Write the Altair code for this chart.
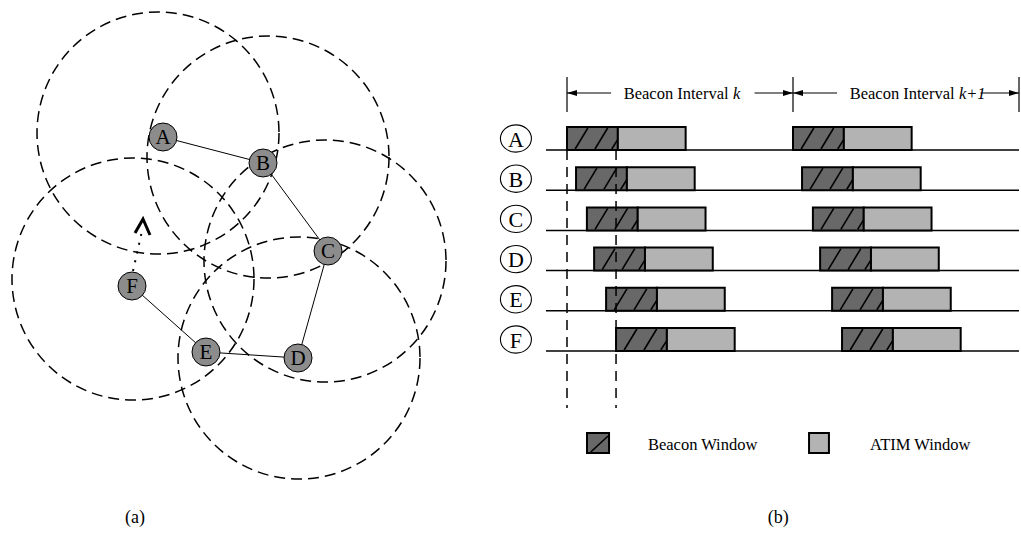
import altair as alt
import pandas as pd

# ---------------- (a) ad hoc network ----------------
nodes = ["A", "B", "C", "D", "E", "F"]
node_x = [163, 263, 328, 298, 206, 132]
node_y = [137, 163, 251, 358, 352, 286]

link_src = ["A", "B", "C", "E", "F"]
link_dst = ["B", "C", "D", "D", "E"]

# transmission ranges drawn as dashed circles
range_x = [158, 268, 133, 325, 299]
range_y = [133, 157, 279, 261, 358]
range_radius = 121

# node F moving away (dotted path with a caret head)
move_x = [133, 142]
move_y = [271, 231]
caret_x = [135, 143, 150]
caret_y = [233, 219, 235]

# ---------------- (b) beacon timing ----------------
interval = 100.0                 # length of one beacon interval
beacon_window = 22.5
atim_window = 30.0
clock_offset = [0.0, 4.0, 8.8, 12.0, 17.3, 21.7]   # one per node, same order
interval_names = ["k", "k+1"]

# ---------------- layout ----------------
W_A, W_B, H = 500, 521, 540
PX_PER_UNIT = 2.26
T0_PX = 67
ROW0, ROW_STEP, BAR_H = 150, 40.2, 23
FONT = "Liberation Serif"
DARK, LIGHT, NODE_GREY = "#686868", "#b3b3b3", "#8c8c8c"

sx_a = alt.Scale(domain=[0, W_A], nice=False, zero=False)
sy = alt.Scale(domain=[0, H], reverse=True, nice=False, zero=False)
sx_b = alt.Scale(domain=[-T0_PX / PX_PER_UNIT, (W_B - T0_PX) / PX_PER_UNIT],
                 nice=False, zero=False)


def X(field, s):
    return alt.X(field, type="quantitative", scale=s, axis=None)


def Y(field):
    return alt.Y(field, type="quantitative", scale=sy, axis=None)


# ---------- panel (a) ----------
pos = pd.DataFrame({"node": nodes, "x": node_x, "y": node_y})
ranges = pd.DataFrame({"x": range_x, "y": range_y})
links = pd.DataFrame({"src": link_src, "dst": link_dst})
links = links.merge(pos.rename(columns={"node": "src", "x": "x1", "y": "y1"}), on="src")
links = links.merge(pos.rename(columns={"node": "dst", "x": "x2", "y": "y2"}), on="dst")
move = pd.DataFrame({"x1": [move_x[0]], "y1": [move_y[0]], "x2": [move_x[1]], "y2": [move_y[1]]})
caret = pd.DataFrame({"x": caret_x, "y": caret_y, "o": range(len(caret_x))})

range_layer = alt.Chart(ranges).mark_point(
    shape="circle", size=(2 * range_radius) ** 2, filled=False, opacity=1,
    stroke="black", strokeWidth=1.5, strokeDash=[11, 6]
).encode(x=X("x", sx_a), y=Y("y"))

link_layer = alt.Chart(links).mark_rule(color="black", strokeWidth=1).encode(
    x=X("x1", sx_a), y=Y("y1"), x2="x2:Q", y2="y2:Q")

move_layer = alt.Chart(move).mark_rule(color="black", strokeWidth=2, strokeDash=[2, 7]).encode(
    x=X("x1", sx_a), y=Y("y1"), x2="x2:Q", y2="y2:Q")

caret_layer = alt.Chart(caret).mark_line(color="black", strokeWidth=3).encode(
    x=X("x", sx_a), y=Y("y"), order="o:Q")

node_layer = alt.Chart(pos).mark_point(
    shape="circle", size=28 ** 2, filled=True, fill=NODE_GREY, opacity=1,
    stroke="black", strokeWidth=1
).encode(x=X("x", sx_a), y=Y("y"))

node_text = alt.Chart(pos).mark_text(
    font=FONT, fontSize=21, color="black", baseline="middle", dy=1
).encode(x=X("x", sx_a), y=Y("y"), text="node:N")

cap_a = alt.Chart(pd.DataFrame({"x": [135], "y": [518], "t": ["(a)"]})).mark_text(
    font=FONT, fontSize=18, color="black", baseline="middle"
).encode(x=X("x", sx_a), y=Y("y"), text="t:N")

panel_a = alt.layer(range_layer, link_layer, move_layer, caret_layer,
                    node_layer, node_text, cap_a).properties(width=W_A, height=H)

# ---------- panel (b) ----------
rows = pd.DataFrame({"node": nodes, "offset": clock_offset})
rows["row"] = range(len(nodes))
rows["base"] = ROW0 + ROW_STEP * rows["row"]
rows["top"] = rows["base"] - BAR_H
rows["mid"] = rows["base"] - BAR_H / 2
rows["lx"] = -22.6
rows["t_start"] = -9.3
rows["t_end"] = 2 * interval

win = []
for _, r in rows.iterrows():
    for k in range(len(interval_names)):
        s = k * interval + r["offset"]
        win.append({"node": r["node"], "b0": s, "b1": s + beacon_window,
                    "a1": s + beacon_window + atim_window,
                    "top": r["top"], "base": r["base"]})
win = pd.DataFrame(win)

# diagonal hatching inside each beacon window
hatch_bot = [0.16, 0.55, 0.88]
hatch_top = [0.41, 0.80, 1.0]
hatch_rise = [1.0, 1.0, 0.46]
hatch = []
for _, w in win.iterrows():
    for fb, ft, fr in zip(hatch_bot, hatch_top, hatch_rise):
        hatch.append({"x1": w["b0"] + fb * beacon_window, "y1": w["base"] - 1,
                      "x2": w["b0"] + ft * beacon_window,
                      "y2": w["base"] - 1 - fr * (BAR_H - 2)})
hatch = pd.DataFrame(hatch)

baseline_layer = alt.Chart(rows).mark_rule(color="black", strokeWidth=1.5).encode(
    x=X("t_start", sx_b), x2="t_end:Q", y=Y("base"))

beacon_layer = alt.Chart(win).mark_rect(fill=DARK, stroke="black", strokeWidth=2).encode(
    x=X("b0", sx_b), x2="b1:Q", y=Y("top"), y2="base:Q")

atim_layer = alt.Chart(win).mark_rect(fill=LIGHT, stroke="black", strokeWidth=2).encode(
    x=X("b1", sx_b), x2="a1:Q", y=Y("top"), y2="base:Q")

hatch_layer = alt.Chart(hatch).mark_rule(color="black", strokeWidth=1.6).encode(
    x=X("x1", sx_b), y=Y("y1"), x2="x2:Q", y2="y2:Q")

guides = pd.DataFrame({"t": [0.0, clock_offset[-1]], "y1": [ROW0, ROW0], "y2": [408, 408]})
guide_layer = alt.Chart(guides).mark_rule(color="black", strokeWidth=1.5, strokeDash=[10, 7]).encode(
    x=X("t", sx_b), y=Y("y1"), y2="y2:Q")

# header: interval boundaries, arrows and names
HEAD_Y = 93
seps = pd.DataFrame({"t": [k * interval for k in range(len(interval_names) + 1)],
                     "y1": 77, "y2": 112})
sep_layer = alt.Chart(seps).mark_rule(color="black", strokeWidth=1.2).encode(
    x=X("t", sx_b), y=Y("y1"), y2="y2:Q")

shafts, heads, names = [], [], []
for k, nm in enumerate(interval_names):
    s = k * interval
    shafts.append({"x1": s, "x2": s + 19.5, "y": HEAD_Y})
    shafts.append({"x1": s + 83, "x2": s + interval, "y": HEAD_Y})
    heads.append({"t": s + 5 / PX_PER_UNIT, "y": HEAD_Y, "dir": "left"})
    heads.append({"t": s + interval - 5 / PX_PER_UNIT, "y": HEAD_Y, "dir": "right"})
    names.append({"t": s + 71.5, "t2": s + 73.4, "y": 99, "name": nm})
shafts, heads, names = pd.DataFrame(shafts), pd.DataFrame(heads), pd.DataFrame(names)

shaft_layer = alt.Chart(shafts).mark_rule(color="black", strokeWidth=1.2).encode(
    x=X("x1", sx_b), x2="x2:Q", y=Y("y"))

LEFT_HEAD = "M-1,0L1,-0.6L1,0.6Z"
RIGHT_HEAD = "M1,0L-1,-0.6L-1,0.6Z"
head_l = alt.Chart(heads).transform_filter(alt.datum.dir == "left").mark_point(
    shape=LEFT_HEAD, size=100, filled=True, color="black", opacity=1
).encode(x=X("t", sx_b), y=Y("y"))
head_r = alt.Chart(heads).transform_filter(alt.datum.dir == "right").mark_point(
    shape=RIGHT_HEAD, size=100, filled=True, color="black", opacity=1
).encode(x=X("t", sx_b), y=Y("y"))

name_text = alt.Chart(names).mark_text(
    font=FONT, fontSize=16.5, color="black", align="right", baseline="alphabetic", text="Beacon Interval"
).encode(x=X("t", sx_b), y=Y("y"))
name_k = alt.Chart(names).mark_text(
    font=FONT, fontSize=16.5, color="black", align="left", baseline="alphabetic", fontStyle="italic"
).encode(x=X("t2", sx_b), y=Y("y"), text="name:N")

# row labels: letters in rings
RING = "M-1,0A1,0.88,0,1,0,1,0A1,0.88,0,1,0,-1,0Z"
label_ring = alt.Chart(rows).mark_point(
    shape=RING, size=31 ** 2, filled=False, stroke="black", strokeWidth=1.1, opacity=1
).encode(x=X("lx", sx_b), y=Y("mid"))
label_text = alt.Chart(rows).mark_text(
    font=FONT, fontSize=22, color="black", baseline="middle", dy=1
).encode(x=X("lx", sx_b), y=Y("mid"), text="node:N")

# legend
legend_boxes = pd.DataFrame({"x1": [8.85, 107.1], "x2": [18.6, 115.9],
                             "y1": [433, 433], "y2": [453, 453],
                             "kind": ["Beacon Window", "ATIM Window"]})
legend_rect = alt.Chart(legend_boxes).mark_rect(stroke="black", strokeWidth=2).encode(
    x=X("x1", sx_b), x2="x2:Q", y=Y("y1"), y2="y2:Q",
    fill=alt.Fill("kind:N", scale=alt.Scale(domain=["Beacon Window", "ATIM Window"],
                                             range=[DARK, LIGHT]), legend=None))
legend_hatch = alt.Chart(pd.DataFrame({"x1": [10.5], "y1": [452], "x2": [18.2], "y2": [436]})).mark_rule(
    color="black", strokeWidth=1.6).encode(x=X("x1", sx_b), y=Y("y1"), x2="x2:Q", y2="y2:Q")
legend_text = alt.Chart(pd.DataFrame({"t": [35.8, 134.1], "y": [450, 450],
                                      "kind": ["Beacon Window", "ATIM Window"]})).mark_text(
    font=FONT, fontSize=16.5, color="black", align="left", baseline="alphabetic"
).encode(x=X("t", sx_b), y=Y("y"), text="kind:N")

cap_b = alt.Chart(pd.DataFrame({"t": [93.5], "y": [518], "c": ["(b)"]})).mark_text(
    font=FONT, fontSize=18, color="black", baseline="middle"
).encode(x=X("t", sx_b), y=Y("y"), text="c:N")

panel_b = alt.layer(
    baseline_layer, beacon_layer, atim_layer, hatch_layer, guide_layer,
    sep_layer, shaft_layer, head_l, head_r, name_text, name_k,
    label_ring, label_text, legend_rect, legend_hatch, legend_text, cap_b
).properties(width=W_B, height=H)

chart = alt.hconcat(panel_a, panel_b, spacing=0, bounds="flush").properties(
    padding=0, background="white"
).configure_view(stroke=None)

chart.save("out.html", embed_options={"renderer": "svg", "actions": False})
